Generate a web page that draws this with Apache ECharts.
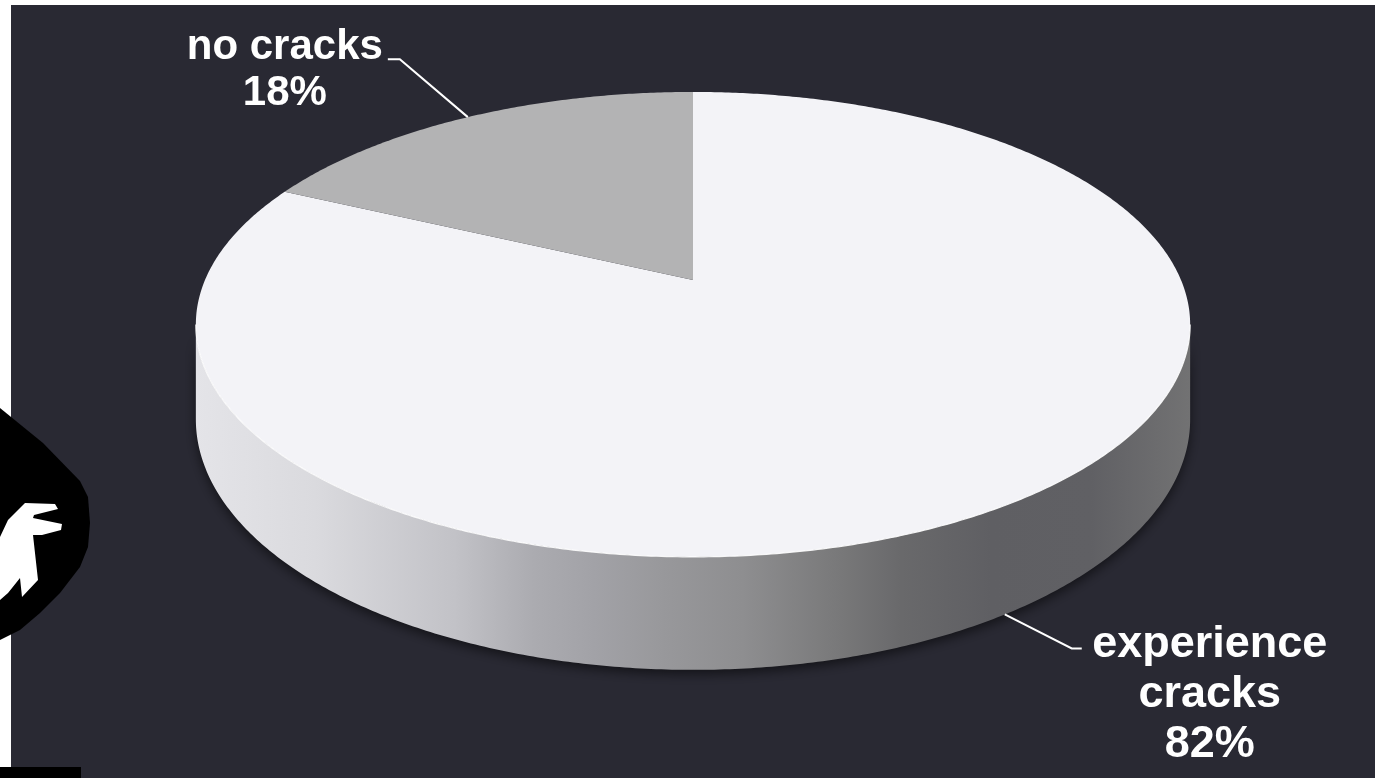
<!DOCTYPE html>
<html>
<head>
<meta charset="utf-8">
<script src="https://cdn.jsdelivr.net/npm/echarts@6/dist/echarts.min.js"></script>
<style>
  html, body { margin: 0; padding: 0; background: #292933; }
  #chart { width: 1375px; height: 778px; }
</style>
</head>
<body>
<div id="chart"></div>
<script>
// Survey split: share of respondents by outcome
const categories = ['experience cracks', 'no cracks'];
const percents = [82, 18];

// Perspective disc: screen centre of the pie, radii, tilt factor and wall depth
const DISC = { cx: 693, cy: 280, sx: 488, sy: 224, k: 0.191, depth: 91.4 };
const TOP_COLORS = ['#f3f3f7', '#b3b3b4'];

// Label placement relative to each slice's anchor on the rim
const LABEL_STYLE = [
  { fontSize: 45, lineHeight: 50, dx: 205, dy: 80, wrap: true, onWall: true,
    elbow: [[67, 34], [77, 34]] },
  { fontSize: 42, lineHeight: 46, dx: -183, dy: -47, wrap: false, onWall: false,
    elbow: [[-68, -58], [-80, -58]] }
];

const total = percents.reduce((a, b) => a + b, 0);
const starts = [];
let acc = 0;
percents.forEach(v => { starts.push(acc / total * 360); acc += v; });

// angle in degrees, clockwise from the far (12 o'clock) point of the disc
function project(deg, lower) {
  const t = deg * Math.PI / 180;
  const x = Math.sin(t), z = Math.cos(t);
  const w = 1 + DISC.k * z;
  const px = DISC.cx + DISC.sx * x / w;
  let py = DISC.cy - DISC.sy * z / w;
  if (lower) py += DISC.depth / w;
  return [px, py];
}

function arc(a, b, lower) {
  const pts = [];
  const n = Math.max(2, Math.ceil(Math.abs(b - a) / 0.5));
  for (let i = 0; i <= n; i++) pts.push(project(a + (b - a) * i / n, lower));
  return pts;
}

// front part of the wall lies between the two horizontal extremes of the disc
const edgeDeg = Math.acos(-DISC.k) * 180 / Math.PI;
const FRONT = [edgeDeg, 360 - edgeDeg];

const wallFill = new echarts.graphic.LinearGradient(196, 0, 1190, 0, [
  { offset: 0.00, color: '#e4e4e8' },
  { offset: 0.12, color: '#dadade' },
  { offset: 0.26, color: '#c2c2c7' },
  { offset: 0.34, color: '#ababb0' },
  { offset: 0.40, color: '#a2a2a7' },
  { offset: 0.47, color: '#98989b' },
  { offset: 0.55, color: '#8e8e90' },
  { offset: 0.64, color: '#7a7a7b' },
  { offset: 0.71, color: '#69696b' },
  { offset: 0.80, color: '#5f5f63' },
  { offset: 0.90, color: '#606064' },
  { offset: 1.00, color: '#727273' }
], true);

function renderItem(params, api) {
  const i = params.dataIndex;
  const a = starts[i];
  const b = a + percents[i] / total * 360;
  const children = [];

  // side wall (only the part facing the viewer)
  const s = Math.max(a, FRONT[0]), e = Math.min(b, FRONT[1]);
  if (e > s) {
    const top = arc(s, e, false);
    const bottom = arc(s, e, true).reverse();
    children.push({
      type: 'polygon', z2: 1,
      shape: { points: top.concat(bottom) },
      style: { fill: wallFill, shadowBlur: 12, shadowColor: 'rgba(0,0,0,0.55)', shadowOffsetY: 4 }
    });
    children.push({
      type: 'polyline', z2: 4,
      shape: { points: top },
      style: { stroke: 'rgba(255,255,255,0.9)', lineWidth: 1.2, fill: null }
    });
  }

  // top face of the slice
  children.push({
    type: 'polygon', z2: 3,
    shape: { points: [[DISC.cx, DISC.cy]].concat(arc(a, b, false)) },
    style: { fill: TOP_COLORS[i] }
  });

  // leader line and label
  const L = LABEL_STYLE[i];
  const mid = (a + b) / 2;
  const anchor = project(mid, L.onWall);
  children.push({
    type: 'polyline', z2: 5,
    shape: { points: [anchor].concat(L.elbow.map(p => [anchor[0] + p[0], anchor[1] + p[1]])) },
    style: { stroke: '#ffffff', lineWidth: 2, fill: null }
  });
  const name = L.wrap ? categories[i].replace(' ', '\n') : categories[i];
  children.push({
    type: 'text', z2: 6,
    style: {
      text: name + '\n' + api.value(0) + '%',
      x: anchor[0] + L.dx, y: anchor[1] + L.dy,
      align: 'center', verticalAlign: 'middle',
      fill: '#ffffff',
      fontFamily: '"Liberation Sans", Arial, sans-serif',
      fontWeight: 'bold', fontSize: L.fontSize, lineHeight: L.lineHeight
    }
  });

  return { type: 'group', children };
}

const chart = echarts.init(document.getElementById('chart'), null, { renderer: 'canvas' });
chart.setOption({
  backgroundColor: '#292933',
  animation: false,
  graphic: [
    { type: 'rect', shape: { x: 0, y: 0, width: 1375, height: 5 }, style: { fill: '#ffffff' }, z: -1 },
    { type: 'rect', shape: { x: 0, y: 0, width: 11, height: 767 }, style: { fill: '#ffffff' }, z: -1 },
    { type: 'rect', shape: { x: 0, y: 767, width: 81, height: 11 }, style: { fill: '#000000' }, z: -1 },
    { type: 'polygon', z: -1,
      shape: { points: [[0, 408], [43, 443], [80, 481], [88, 497], [90, 523], [88, 547], [80, 567],
                        [60, 593], [40, 613], [20, 630], [0, 640]] },
      style: { fill: '#000000' } },
    { type: 'polygon', z: -1,
      shape: { points: [[0, 537], [8, 520], [25, 503], [55, 504], [58, 509], [34, 515], [33, 518],
                        [62, 524], [61, 530], [42, 535], [33, 535], [38, 580], [22, 597], [20, 578],
                        [8, 593], [0, 600]] },
      style: { fill: '#ffffff' } }
  ],
  series: [{
    type: 'custom',
    coordinateSystem: 'none',
    renderItem: renderItem,
    data: percents.map((v, i) => ({ name: categories[i], value: [v] }))
  }]
});
</script>
</body>
</html>
